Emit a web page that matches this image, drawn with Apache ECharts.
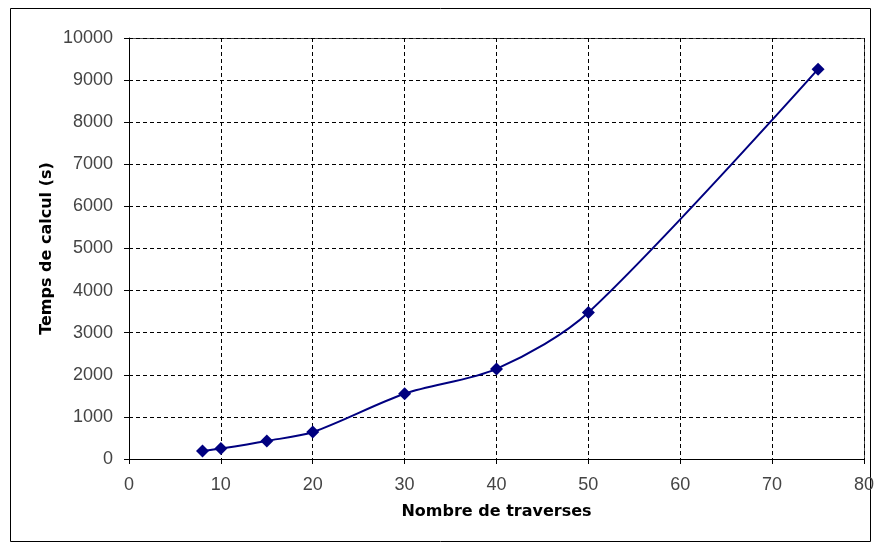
<!DOCTYPE html>
<html>
<head>
<meta charset="utf-8">
<script src="https://cdn.jsdelivr.net/npm/echarts@6/dist/echarts.min.js"></script>
<style>
  html, body { margin: 0; padding: 0; background: #fff; }
  #chart { width: 877px; height: 548px; }
</style>
</head>
<body>
<div id="chart"></div>
<script>
// nombre de traverses -> temps de calcul (s)
const traverses = [8, 10, 15, 20, 30, 40, 50, 75];
const temps = [190, 250, 430, 640, 1550, 2140, 3480, 9260];
const xTicks = [0, 10, 20, 30, 40, 50, 60, 70, 80];
const yTicks = [0, 1000, 2000, 3000, 4000, 5000, 6000, 7000, 8000, 9000, 10000];

let myChart = echarts.init(document.getElementById('chart'));
let option = {
  backgroundColor: '#fff',
  animation: false,
  graphic: [
    {
      type: 'rect',
      shape: { x: 10.5, y: 8.5, width: 860, height: 533 },
      style: { fill: 'none', stroke: '#000', lineWidth: 1 },
      silent: true
    },
    {
      type: 'rect',
      shape: { x: 129.5, y: 38.5, width: 735, height: 421 },
      style: { fill: 'none', stroke: '#555', lineWidth: 1 },
      silent: true,
      z: 0
    }
  ],
  grid: {
    left: 129,
    top: 38,
    width: 735,
    height: 421,
    containLabel: false
  },
  xAxis: {
    type: 'value',
    min: xTicks[0],
    max: xTicks[xTicks.length - 1],
    interval: 10,
    name: 'Nombre de traverses',
    nameLocation: 'middle',
    nameGap: 45,
    nameMoveOverlap: false,
    nameTextStyle: { fontFamily: 'DejaVu Sans', fontWeight: 'bold', fontSize: 16, color: '#000' },
    axisLine: { lineStyle: { color: '#000', width: 1 } },
    axisTick: { show: true, length: 5, lineStyle: { color: '#000' } },
    axisLabel: { fontFamily: 'Liberation Sans', fontSize: 18, color: '#444', margin: 17, formatter: v => String(v) },
    splitLine: { show: true, lineStyle: { color: '#000', type: [4, 3], width: 1 } }
  },
  yAxis: {
    type: 'value',
    min: yTicks[0],
    max: yTicks[yTicks.length - 1],
    interval: 1000,
    name: 'Temps de calcul (s)',
    nameLocation: 'middle',
    nameGap: 74,
    nameMoveOverlap: false,
    nameTextStyle: { fontFamily: 'DejaVu Sans', fontWeight: 'bold', fontSize: 16, color: '#000' },
    axisLine: { show: true, lineStyle: { color: '#000', width: 1 } },
    axisTick: { show: true, length: 5, lineStyle: { color: '#000' } },
    axisLabel: { fontFamily: 'Liberation Sans', fontSize: 18, color: '#444', margin: 16, formatter: v => String(v) },
    splitLine: { show: true, lineStyle: { color: '#000', type: [4, 3], width: 1 } }
  },
  series: [
    {
      type: 'line',
      data: traverses.map((x, i) => [x, temps[i]]),
      smooth: 0.3,
      symbol: 'diamond',
      symbolSize: 13,
      itemStyle: { color: '#000080' },
      lineStyle: { color: '#000080', width: 2 },
      z: 5
    }
  ]
};
myChart.setOption(option);
</script>
</body>
</html>
